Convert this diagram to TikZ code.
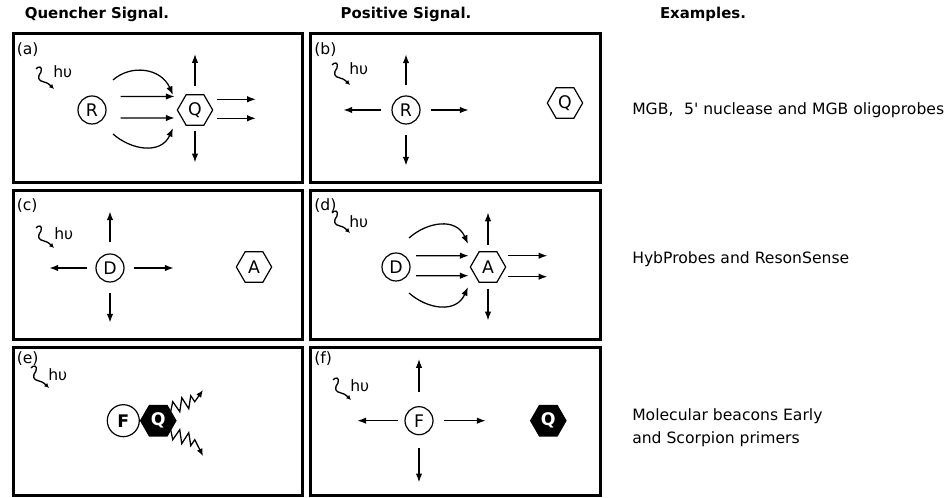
\documentclass[tikz,border=0pt]{standalone}
\usepackage{fontspec}
\setmainfont{DejaVu Sans}
\usetikzlibrary{positioning,arrows.meta,shapes.geometric}

\begin{document}
\begin{tikzpicture}[
  x=0.75pt, y=0.75pt,
  font=\fontsize{11.7}{14}\selectfont,
  panel/.style={draw,line width=2.25pt},
  tag/.style={anchor=north west,inner sep=0pt},
  nu/.style={anchor=west,inner sep=0pt},
  head/.style={inner sep=0pt,font=\fontsize{11.2}{14}\selectfont\bfseries},
  example/.style={anchor=west,inner sep=0pt,align=left,font=\fontsize{11.7}{17.3}\selectfont},
  dye/.style={draw,circle,line width=0.9pt,minimum size=21pt,inner sep=0pt,font=\fontsize{13}{14}\selectfont},
  hexa/.style={draw,regular polygon,regular polygon sides=6,line width=0.9pt,minimum size=26.5pt,inner sep=0pt,font=\fontsize{13}{14}\selectfont},
  darkhex/.style={hexa,fill=black,text=white,font=\fontsize{13}{14}\selectfont\bfseries},
  arr/.style={line width=0.95pt,-{Latex[length=6.5pt,width=4.8pt]}},
  spring/.style={line width=0.95pt,line join=miter,-{Latex[length=5.5pt,width=4.5pt]}},
  photon/.pic={
    \draw[line width=1pt,-{Latex[length=3.5pt,width=3.5pt]}]
      (0,-3) .. controls (2,0) and (7,0) .. (5,-6)
      .. controls (1,-11) and (2,-15) .. (8,-16)
      .. controls (12,-17) and (14,-19) .. (18,-23);
  },
]
\useasboundingbox (0,0) rectangle (946,498);

% Column headings
\node[head] (hq) at (97,484) {Quencher Signal.};
\node[head] (hp) at (406,484) {Positive Signal.};
\node[head] (he) at (703,484) {Examples.};

% Panel frames
\draw[panel] (13.3,464.5) rectangle (302.5,315);
\draw[panel] (310,464.5) rectangle (600,315);
\draw[panel] (13.3,307.5) rectangle (302.5,158);
\draw[panel] (310,307.5) rectangle (600,158);
\draw[panel] (13.3,150) rectangle (302.5,2.5);
\draw[panel] (310,150) rectangle (600,2.5);

% (a) reporter quenched
\node[tag] (ta) at (16.5,456) {(a)};
\pic at (36,432) {photon};
\node[nu] (na) at (53,426) {hυ};
\node[dye] (Ra) at (92,388) {R};
\node[hexa] (Qa) at (195,388) {Q};
\draw[arr] ([shift={(14,13.5)}]Ra.east) -- ([shift={(-2,13.5)}]Qa.west);
\draw[arr] ([shift={(14,-8)}]Ra.east) -- ([shift={(-2,-8)}]Qa.west);
\draw[arr] ([shift={(21,30)}]Ra.center) .. controls +(18,16) and +(-12,27) .. ([shift={(-22,15)}]Qa.center);
\draw[arr] ([shift={(21,-24)}]Ra.center) .. controls +(18,-16) and +(-12,-27) .. ([shift={(-22,-18)}]Qa.center);
\draw[arr] ([shift={(0,8)}]Qa.north) -- ++(0,32);
\draw[arr] ([shift={(0,-5)}]Qa.south) -- ++(0,-31.5);
\draw[arr] ([shift={(4,10.7)}]Qa.east) -- ++(38.5,0);
\draw[arr] ([shift={(4,-8.3)}]Qa.east) -- ++(38.5,0);

% (b) reporter free
\node[tag] (tb) at (314,456) {(b)};
\pic at (332,436) {photon};
\node[nu] (nb) at (349,429) {hυ};
\node[dye] (Rb) at (406,388) {R};
\node[hexa] (Qb) at (565,395) {Q};
\foreach \a/\l in {0/38,90/31,180/38,270/31}
  \draw[arr] (Rb.\a) ++(\a:10) -- ++(\a:\l);

% (c) donor alone
\node[tag] (tc) at (16.5,300) {(c)};
\pic at (36,273) {photon};
\node[nu] (nc) at (54,264) {hυ};
\node[dye] (Dc) at (110,230) {D};
\node[hexa] (Ac) at (254,231) {A};
\foreach \a/\g/\l in {0/9/40,90/11/31,180/8/38,270/10/30}
  \draw[arr] (Dc.\a) ++(\a:\g) -- ++(\a:\l);

% (d) donor to acceptor transfer
\node[tag] (td) at (314,300) {(d)};
\pic at (332,288) {photon};
\node[nu] (nd) at (349,276) {hυ};
\node[dye] (Dd) at (396,231) {D};
\node[hexa] (Ad) at (488,231) {A};
\draw[arr] ([shift={(5.5,11.3)}]Dd.east) -- ([shift={(-1,11.3)}]Ad.west);
\draw[arr] ([shift={(5.5,-8.7)}]Dd.east) -- ([shift={(-1,-8.7)}]Ad.west);
\draw[arr] ([shift={(13,29)}]Dd.center) .. controls +(18,16) and +(-12,27) .. ([shift={(-20,23)}]Ad.center);
\draw[arr] ([shift={(13,-26)}]Dd.center) .. controls +(18,-16) and +(-12,-27) .. ([shift={(-20,-20)}]Ad.center);
\draw[arr] ([shift={(0,6.5)}]Ad.north) -- ++(0,32);
\draw[arr] ([shift={(0,-6)}]Ad.south) -- ++(0,-31.5);
\draw[arr] ([shift={(2,11.3)}]Ad.east) -- ++(39,0);
\draw[arr] ([shift={(2,-9.7)}]Ad.east) -- ++(39,0);

% (e) contact quenching
\node[tag] (te) at (16.5,147) {(e)};
\pic at (31,133) {photon};
\node[nu] (ne) at (48,123) {hυ};
\node[dye,minimum size=24pt,font=\fontsize{13}{14}\selectfont\bfseries] (Fe) at (123.3,77.3) {F};
\node[darkhex,right=0pt of Fe] (Qe) {Q};
\coordinate (ue) at (203,108);
\coordinate (le) at (203,42);
\draw[spring] ([shift={(12,7)}]Qe.center) -- ++(2.5,12) -- ++(7,-10) -- ++(2,14)
  -- ++(7,-11) -- ++(2,13) -- ++(4,-6) -- (ue);
\draw[spring] ([shift={(12,-7)}]Qe.center) -- ++(2.5,-12) -- ++(7,10) -- ++(2,-14)
  -- ++(7,11) -- ++(2,-13) -- ++(4,6) -- (le);

% (f) fluorophore released
\node[tag] (tf) at (314,147) {(f)};
\pic at (333,121) {photon};
\node[nu] (nf) at (350,112) {hυ};
\node[dye] (Ff) at (419,77.3) {F};
\node[darkhex] (Qf) at (548.3,77.3) {Q};
\foreach \a/\g/\l in {0/10/42,90/14/33,180/6/41,270/13/34}
  \draw[arr] (Ff.\a) ++(\a:\g) -- ++(\a:\l);

% Probe formats
\node[example] (xa) at (632,388) {MGB,\hspace{.68em}5\textquotesingle{} nuclease and MGB oligoprobes};
\node[example] (xb) at (632,239) {HybProbes and ResonSense};
\node[example] (xc) at (632,70) {Molecular beacons Early\\and Scorpion primers};
\end{tikzpicture}
\end{document}
